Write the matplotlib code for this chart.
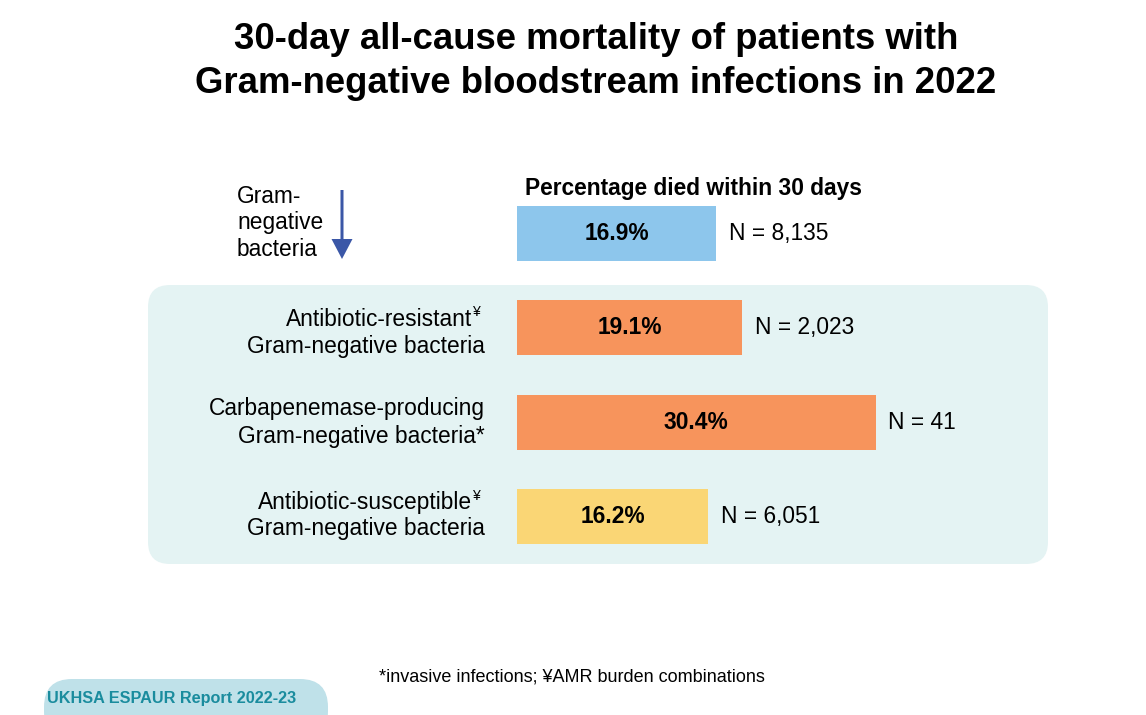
import matplotlib.pyplot as plt
from matplotlib.patches import FancyBboxPatch

plt.rcParams['font.family'] = ['Liberation Sans', 'DejaVu Sans']

# --- Data ---
groups = ["all", "resistant", "cpe", "susceptible"]
pct_died = [16.9, 19.1, 30.4, 16.2]
n_patients = ["8,135", "2,023", "41", "6,051"]
bar_colors = ["#8DC6EC", "#F7945C", "#F7945C", "#FAD675"]
label_line1 = [None, "Antibiotic-resistant", "Carbapenemase-producing", "Antibiotic-susceptible"]
label_sup1 = [None, "¥", "", "¥"]
label_line2 = [None, "Gram-negative bacteria", "Gram-negative bacteria*", "Gram-negative bacteria"]

W, H = 1146, 715
FS = 16.4
fig = plt.figure(figsize=(W / 100, H / 100), dpi=100)

# ---------- background layer in pixel coords ----------
bg = fig.add_axes([0, 0, 1, 1])
bg.set_xlim(0, W)
bg.set_ylim(H, 0)
bg.axis('off')

panel = FancyBboxPatch((148, 285), 900, 279, boxstyle="round,pad=0,rounding_size=22",
                       fc="#E4F3F3", ec="none")
bg.add_patch(panel)

tab = FancyBboxPatch((44, 679), 284, 60, boxstyle="round,pad=0,rounding_size=28",
                     fc="#BFE1E9", ec="none")
bg.add_patch(tab)
bg.text(47, 698, "UKHSA ESPAUR Report 2022-23", fontsize=11.7, fontweight='bold',
        color="#1A8C9E", ha='left', va='center')

bg.text(596, 61.5, "30-day all-cause mortality of patients with\nGram-negative bloodstream infections in 2022",
        fontsize=26.3, fontweight='bold', ha='center', va='center', linespacing=1.3)

bg.text(237, 223, "Gram-\nnegative\nbacteria", fontsize=FS, ha='left', va='center',
        linespacing=1.2)
bg.arrow(342, 190, 0, 69, width=3, head_width=21, head_length=20,
         length_includes_head=True, fc="#3B57A7", ec="none")

bg.text(693, 189, "Percentage died within 30 days", fontsize=FS, fontweight='bold',
        ha='center', va='center')

bg.text(572, 677, "*invasive infections; ¥AMR burden combinations", fontsize=13,
        ha='center', va='center')

# ---------- bar axes ----------
ax = fig.add_axes([517 / W, 1 - 563.65 / H, 483 / W, 377.3 / H])
ax.set_xlim(0, 483 / 11.8)
ax.set_ylim(3.5, -0.5)
ax.axis('off')

ypos = list(range(len(groups)))
ax.barh(ypos, pct_died, height=0.583, color=bar_colors, left=0)

for y, v, n in zip(ypos, pct_died, n_patients):
    ax.text(v / 2, y, f"{v}%", fontsize=FS, fontweight='bold', ha='center', va='center')
    ax.annotate(f"N = {n}", xy=(v, y), xytext=(9, 0), textcoords='offset points',
                fontsize=FS, ha='left', va='center')

# category labels (left of bars, pixel coords)
line1_y = [None, 319, 409, 503]
line2_y = [None, 346, 436, 529]
for y1, y2, l1, s1, l2 in zip(line1_y, line2_y, label_line1, label_sup1, label_line2):
    if l1 is None:
        continue
    if s1:
        bg.text(472, y1, l1, fontsize=FS, ha='right', va='center')
        bg.text(472, y1 - 7, s1, fontsize=10, ha='left', va='center')
    else:
        bg.text(485, y1, l1, fontsize=FS, ha='right', va='center')
    bg.text(485, y2, l2, fontsize=FS, ha='right', va='center')

fig.savefig("out.png", dpi=100)
